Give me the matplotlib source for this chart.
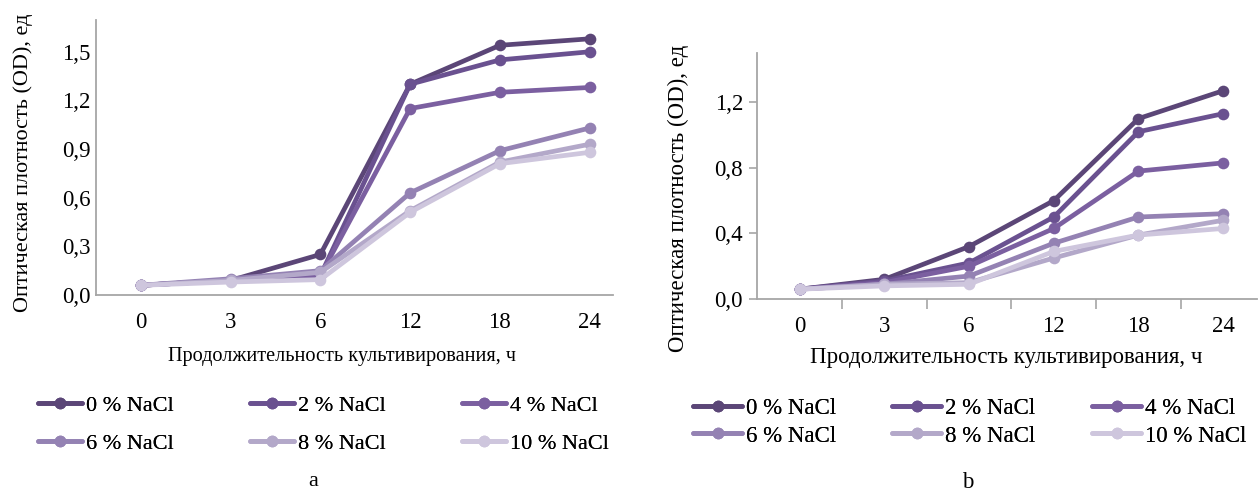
import matplotlib
matplotlib.use("Agg")
import matplotlib.pyplot as plt
import numpy as np

plt.rcParams['font.family'] = ['Liberation Serif', 'DejaVu Serif']

hours = ['0', '3', '6', '12', '18', '24']
series_labels = ['0 % NaCl', '2 % NaCl', '4 % NaCl', '6 % NaCl', '8 % NaCl', '10 % NaCl']
colors = ['#5b4677', '#6a5190', '#7b5fa0', '#9482b3', '#b3a8c9', '#cec6dd']

# Panel a
a_0 = [0.06, 0.09, 0.25, 1.30, 1.54, 1.58]
a_2 = [0.06, 0.09, 0.12, 1.30, 1.45, 1.50]
a_4 = [0.06, 0.09, 0.12, 1.15, 1.25, 1.28]
a_6 = [0.06, 0.10, 0.15, 0.63, 0.89, 1.03]
a_8 = [0.06, 0.09, 0.14, 0.52, 0.82, 0.93]
a_10 = [0.06, 0.08, 0.095, 0.51, 0.81, 0.88]

# Panel b
b_0 = [0.06, 0.12, 0.32, 0.60, 1.10, 1.27]
b_2 = [0.06, 0.11, 0.22, 0.50, 1.02, 1.13]
b_4 = [0.06, 0.10, 0.20, 0.43, 0.78, 0.83]
b_6 = [0.06, 0.09, 0.14, 0.34, 0.50, 0.52]
b_8 = [0.06, 0.09, 0.10, 0.25, 0.39, 0.48]
b_10 = [0.06, 0.08, 0.09, 0.29, 0.39, 0.43]

a_yticks = [0.0, 0.3, 0.6, 0.9, 1.2, 1.5]
b_yticks = [0.0, 0.4, 0.8, 1.2]

W, H = 1258, 493
fig = plt.figure(figsize=(W / 100, H / 100), dpi=100)

def fx(px):
    return px / W

def fy(py):
    return 1 - py / H

ax_a = fig.add_axes([fx(96), fy(295), fx(613) - fx(96), fy(20) - fy(295)])
ax_b = fig.add_axes([fx(757), fy(299), fx(1257) - fx(757), fy(53) - fy(299)])

gray = '#a6a6a6'
fs = 16.5
ylabel = 'Оптическая плотность (OD), ед'
xlabel = 'Продолжительность культивирования, ч'

def style(ax, data, yticks, ylim, xlim, ytick_len, xminor, tfs):
    x = np.arange(len(hours))
    handles = []
    for vals, lab, col in zip(data, series_labels, colors):
        h, = ax.plot(x, vals, color=col, lw=3.4, marker='o', ms=8.4,
                     markeredgewidth=0, label=lab, solid_capstyle='round')
        handles.append(h)
    ax.set_xlim(*xlim)
    ax.set_ylim(*ylim)
    ax.set_xticks(x)
    ax.set_xticklabels(hours, fontsize=tfs)
    ax.set_yticks(yticks)
    ax.set_yticklabels([f'{v:.1f}'.replace('.', ',') for v in yticks], fontsize=tfs)
    for s in ['top', 'right']:
        ax.spines[s].set_visible(False)
    for s in ['left', 'bottom']:
        ax.spines[s].set_color(gray)
        ax.spines[s].set_linewidth(1.3)
    ax.tick_params(axis='x', length=0, pad=12)
    ax.tick_params(axis='y', length=ytick_len, color=gray, width=1.2, pad=4)
    if xminor:
        ax.set_xticks(np.arange(0.5, len(hours) - 1, 1.0), minor=True)
        ax.tick_params(axis='x', which='minor', length=7, color=gray, width=1.2)
    if ytick_len == 0:
        ax.set_yticks([0.0], minor=True)
        ax.tick_params(axis='y', which='minor', length=7, color=gray, width=1.2)
    return handles

h_a = style(ax_a, [a_0, a_2, a_4, a_6, a_8, a_10], a_yticks, (0, 1.696), (-0.5, 5.26), 0, False, 16.5)
h_b = style(ax_b, [b_0, b_2, b_4, b_6, b_8, b_10], b_yticks, (0, 1.5), (-0.505, 5.4), 6, True, 16.5)

fig.text(fx(342), fy(357), xlabel, ha='center', va='center', fontsize=14.6)
fig.text(fx(1006), fy(357), xlabel, ha='center', va='center', fontsize=16.5)

fig.text(fx(23), fy(163), ylabel, rotation=90, ha='center', va='center', fontsize=16)
fig.text(fx(678), fy(198), ylabel, rotation=90, ha='center', va='center', fontsize=16.5)

def column_legends(handles, xs, ytop, lfs, hl, spacing):
    for col, xpos in enumerate(xs):
        idx = [col, col + 3]
        leg = fig.legend([handles[i] for i in idx], [series_labels[i] for i in idx],
                         ncol=1, loc='upper left', bbox_to_anchor=(fx(xpos), fy(ytop)),
                         frameon=False, fontsize=lfs, handlelength=hl, handletextpad=0.15,
                         labelspacing=spacing, borderpad=0, borderaxespad=0)
        fig.add_artist(leg)

column_legends(h_a, [38, 250, 462], 395, 16, 2.0, 0.8)
column_legends(h_b, [693, 892, 1092], 398, 16.5, 2.15, 0.28)

fig.text(fx(313), fy(482), 'a', ha='center', va='center', fontsize=16)
fig.text(fx(968), fy(482), 'b', ha='center', va='center', fontsize=16.5)

fig.savefig('out.png', dpi=100)
